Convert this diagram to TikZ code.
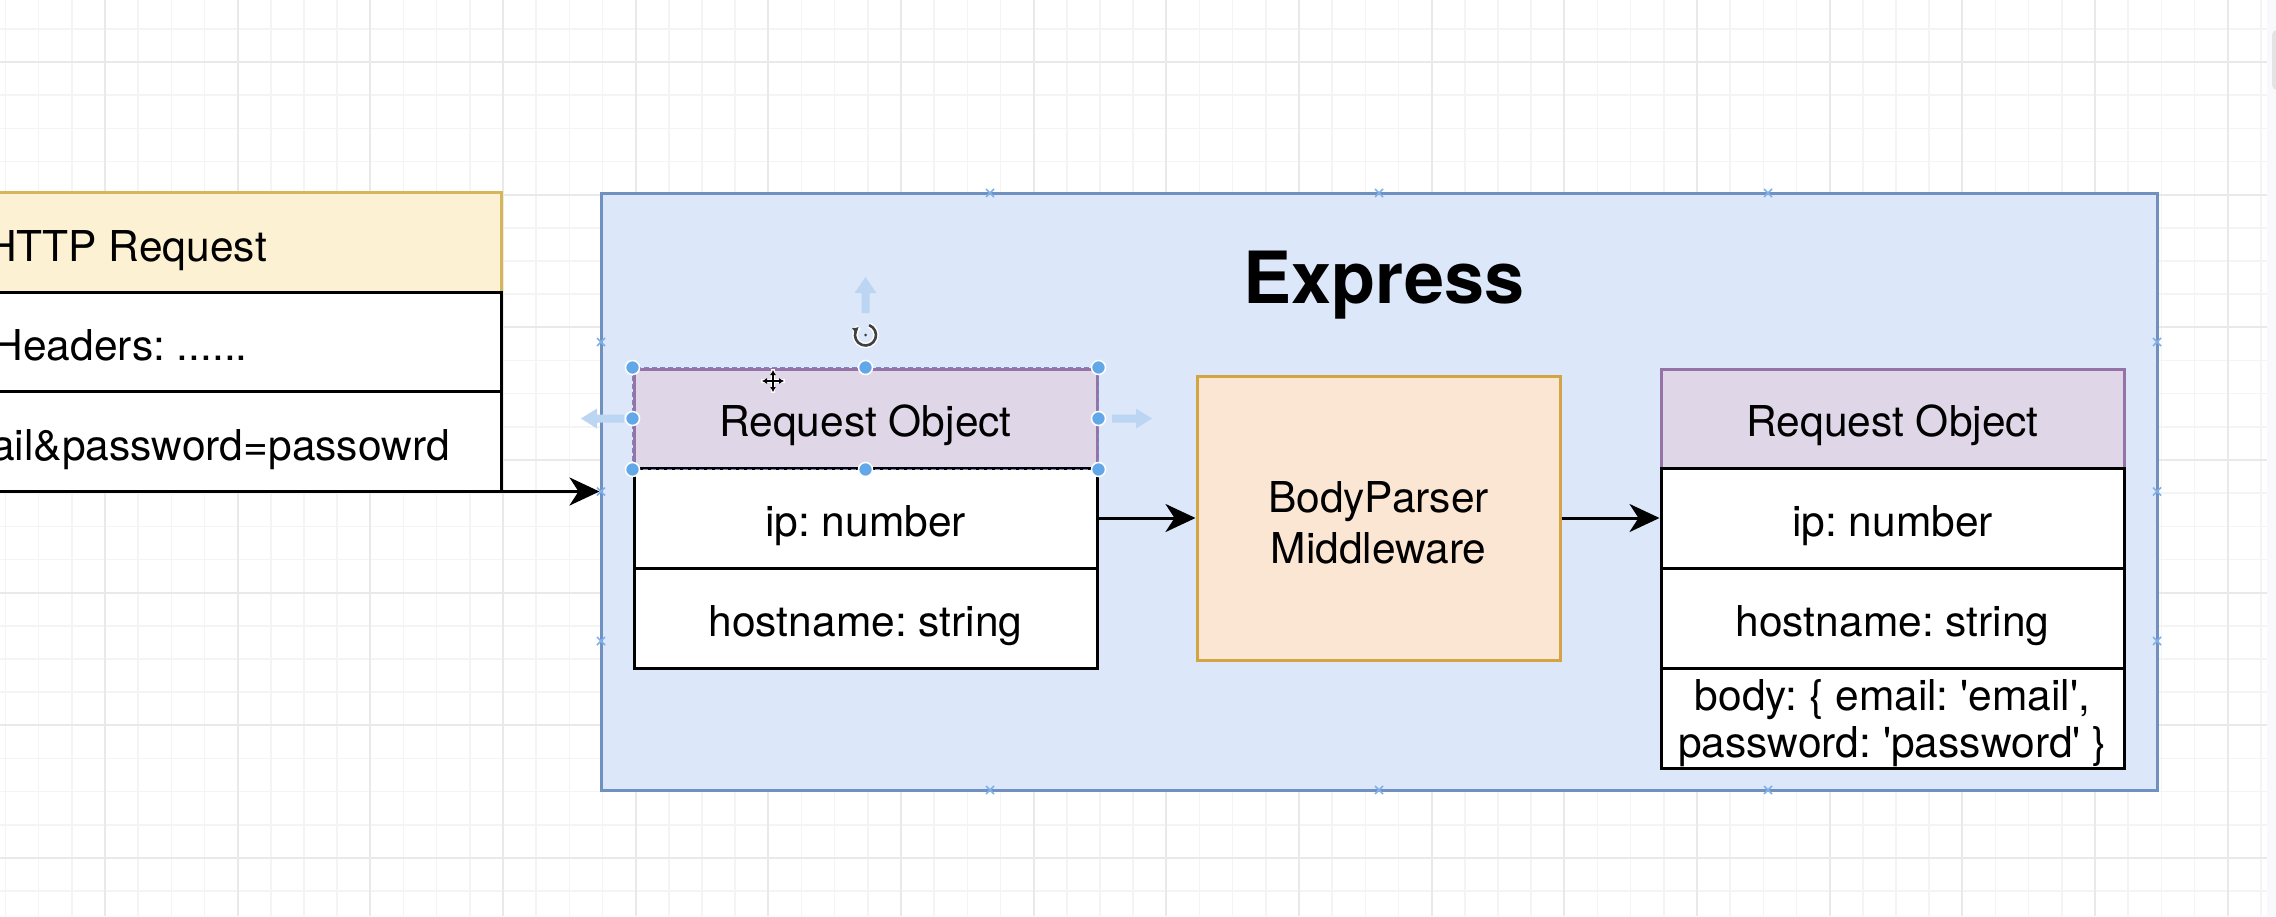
\documentclass[tikz,border=0pt]{standalone}
\usepackage{fontspec}
\setmainfont{TeX Gyre Heros}[Ligatures=TeXOff]
\usetikzlibrary{arrows.meta}
\frenchspacing

\definecolor{gridminor}{HTML}{F4F4F4}
\definecolor{gridmajor}{HTML}{E9E9E9}
\definecolor{exfill}{HTML}{DCE8FA}
\definecolor{exdraw}{HTML}{7090C0}
\definecolor{purfill}{HTML}{DFD7E7}
\definecolor{purdraw}{HTML}{9673A6}
\definecolor{yelfill}{HTML}{FCF1D2}
\definecolor{yeldraw}{HTML}{D6B656}
\definecolor{orfill}{HTML}{FAE6D2}
\definecolor{ordraw}{HTML}{D2A444}
\definecolor{handle}{HTML}{62A8E8}
\definecolor{ghost}{HTML}{BCD5F2}
\definecolor{marker}{HTML}{7FB0E8}
\definecolor{sidebar}{HTML}{F8F9FA}
\definecolor{thumb}{HTML}{E4E4E4}
\definecolor{selline}{HTML}{7C86C8}

\tikzset{
  txt/.style={inner sep=0pt, font=\fontsize{42.5}{47}\selectfont},
  cell/.style={txt, draw=black, fill=white, line width=3pt,
    minimum width=463pt, minimum height=100pt, text height=36pt, text depth=0pt},
  header/.style={cell, fill=purfill, draw=purdraw, minimum height=99pt},
  httpcell/.style={draw=black, fill=white, line width=3pt, inner sep=0pt,
    minimum width=561pt, minimum height=99.5pt},
  flow/.style={line width=3pt, -{Stealth[length=30pt,width=28pt,inset=9pt]}},
  handledot/.style={fill=handle, draw=white, line width=1.5pt},
  ghostarrow/.style={fill=ghost, draw=none},
  xmark/.style={draw=marker, line width=1.6pt},
}

\begin{document}
\begin{tikzpicture}[x=1pt, y=-1pt]
\useasboundingbox (0,0) rectangle (2276,916);
\clip (0,0) rectangle (2276,916);
\fill[white] (0,0) rectangle (2276,916);

% canvas grid
\foreach \i in {0,...,68}
  \draw[gridminor, line width=1.5pt] ({5.5+33.167*\i},0) -- ++(0,916);
\foreach \j in {0,...,26}
  \draw[gridminor, line width=1.5pt] (0,{28.8+33.167*\j}) -- ++(2267,0);
\foreach \i in {0,...,16}
  \draw[gridmajor, line width=2pt] ({105+132.67*\i},0) -- ++(0,916);
\foreach \j in {0,...,6}
  \draw[gridmajor, line width=2pt] (0,{62+132.67*\j}) -- ++(2267,0);

% right sidebar with scroll thumb
\fill[sidebar] (2267,0) rectangle (2276,916);
\fill[thumb, rounded corners=5pt] (2272,30) rectangle (2290,90);

% HTTP request (left part off the canvas)
\node[httpcell, fill=yelfill, draw=yeldraw] (http0) at (220.5,242.5) {};
\node[httpcell] (http1) at (220.5,342) {};
\node[httpcell] (http2) at (220.5,441.5) {};
\node[txt, anchor=base east] (httpT) at (267,261) {HTTP Request};
\node[txt, anchor=base east] (hdrT) at (248,360) {Headers: ......};
\node[txt, anchor=base east] (qsT) at (450,460) {ail\&password=passowrd};

% Express container
\node[draw=exdraw, fill=exfill, line width=3pt, inner sep=0pt,
      minimum width=1556pt, minimum height=597pt] (express) at (1379,491.5) {};
\node[inner sep=0pt, anchor=base, font=\fontsize{72}{80}\selectfont\bfseries]
      (title) at (1384,303) {Express};

% incoming request object
\node[header] (reqL0) at (865.5,418.5) {Request Object};
\node[cell] (reqL1) at (865.5,518) {ip: number};
\node[cell] (reqL2) at (865.5,618) {hostname: string};

% body parser
\node[draw=ordraw, fill=orfill, line width=3pt, inner sep=0pt,
      minimum width=363pt, minimum height=284pt] (bp) at (1378.5,518) {};
\node[inner sep=0pt, font=\fontsize{42.5}{51}\selectfont, align=center]
      (bpT) at (1378.5,522.5) {BodyParser\\Middleware};

% parsed request object
\node[header] (reqR0) at (1892.5,418.5) {Request Object};
\node[cell] (reqR1) at (1892.5,518) {ip: number};
\node[cell] (reqR2) at (1892.5,618) {hostname: string};
\node[cell] (reqR3) at (1892.5,718) {};
\node[txt, align=center] (bodyT) at (1892.5,723)
      {body: \{ email: 'email',\\password: 'password' \}};

% connectors
\draw[flow] (http2.east |- express.west) -- (express.west);
\draw[flow] (reqL1.east) -- (bp.west);
\draw[flow] (bp.east) -- (reqR1.west);

% connection points of the container
\foreach \p in {(990,193),(1379,193),(1768,193),(990,790),(1379,790),(1768,790),
                (601,342),(601,491.5),(601,641),(2157,342),(2157,491.5),(2157,641)}
  \draw[xmark] \p ++(-4,-4) -- ++(8,8) ++(-8,0) -- ++(8,-8);

% selection of the incoming header
\draw[selline, line width=1.6pt, dash pattern=on 5pt off 3pt]
  (reqL0.north west) rectangle (reqL0.south east);
\foreach \a in {north west, north, north east, west, east, south west, south, south east}
  \draw[handledot] (reqL0.\a) circle (7pt);

% hover arrows around the selection
\fill[ghostarrow] (865.5,277) -- (876.5,293) -- (869.5,293) -- (869.5,313)
  -- (861.5,313) -- (861.5,293) -- (854.5,293) -- cycle;
\fill[ghostarrow] (581,418.5) -- (597,408.5) -- (597,414.5) -- (624,414.5)
  -- (624,422.5) -- (597,422.5) -- (597,428.5) -- cycle;
\fill[ghostarrow] (1152,418.5) -- (1136,408.5) -- (1136,414.5) -- (1112,414.5)
  -- (1112,422.5) -- (1136,422.5) -- (1136,428.5) -- cycle;

% rotate handle
\draw[white, line width=5.5pt] (865.5,335) ++(-70:10.5) arc[start angle=-70, end angle=230, radius=10.5];
\draw[black!75, line width=2.6pt, -{Latex[length=6pt,width=7pt]}]
  (865.5,335) ++(-70:10.5) arc[start angle=-70, end angle=230, radius=10.5];
\fill[black!75] (865.5,335) circle (1.5pt);

% move cursor
\draw[white, line width=4.5pt] (761,381) -- (785,381) (773,369) -- (773,393);
\draw[black, line width=1.8pt, {Latex[length=5pt,width=6pt]}-{Latex[length=5pt,width=6pt]}]
  (762,381) -- (784,381);
\draw[black, line width=1.8pt, {Latex[length=5pt,width=6pt]}-{Latex[length=5pt,width=6pt]}]
  (773,370) -- (773,392);
\end{tikzpicture}
\end{document}
